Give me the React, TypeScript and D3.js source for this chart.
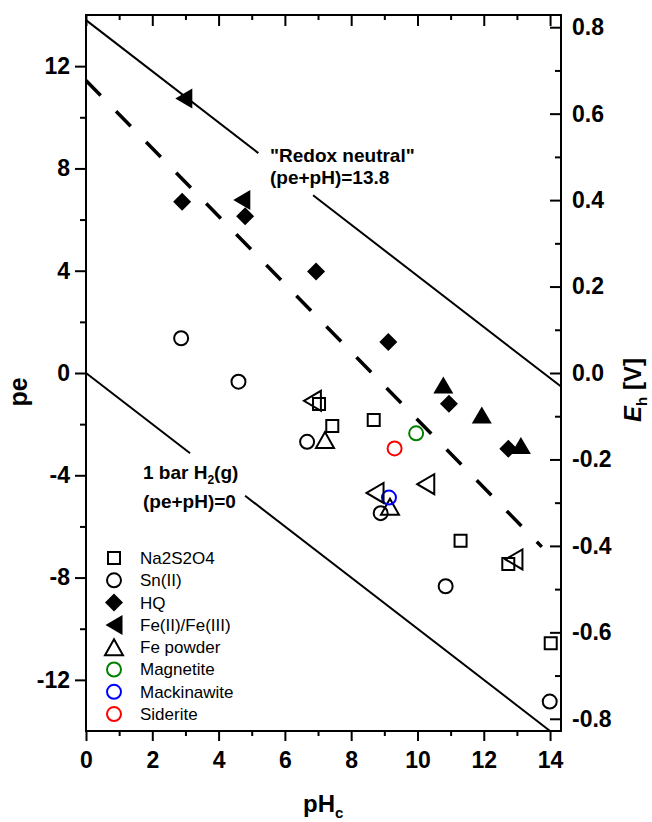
import React, { useEffect, useRef } from 'react';
import * as d3 from 'd3';

// data (pH, pe)
const na2s2o4 = [[7.03, -1.21], [7.43, -2.07], [8.68, -1.84], [11.3, -6.56], [12.74, -7.47], [14.02, -10.57]];
const snII = [[2.87, 1.36], [4.6, -0.34], [6.67, -2.69], [8.89, -5.48], [10.85, -8.34], [13.99, -12.85]];
const hq = [[2.9, 6.7], [4.8, 6.13], [6.94, 3.97], [9.12, 1.21], [10.95, -1.2], [12.74, -2.96]];
const feIIFeIII = [[2.95, 10.73], [4.7, 6.77]];
const fePowder = [[7.21, -2.62], [9.17, -5.23]];
const magnetite = [[9.96, -2.36]];
const mackinawite = [[9.14, -4.87]];
const siderite = [[9.31, -2.95]];
const filledUp = [[10.78, -0.47], [11.94, -1.64], [13.12, -2.84]];
const openLeft = [[6.83, -1.09], [8.72, -4.69], [10.25, -4.35], [12.91, -7.29]];

// reference lines
const redoxLineA = [[0, 13.8], [5.2, 8.6]];
const redoxLineB = [[6.85, 6.95], [14.33, -0.53]];
const h2LineA = [[0, 0], [3.14, -3.14]];
const h2LineB = [[4.8, -4.8], [14, -14]];
const fitLine = [[0, 11.44], [13.75, -6.8]];

// ticks
const xMajor = [0, 2, 4, 6, 8, 10, 12, 14];
const xMinor = [1, 3, 5, 7, 9, 11, 13];
const yMajor = [-12, -8, -4, 0, 4, 8, 12];
const yMinor = [-10, -6, -2, 2, 6, 10];
const ehMajor = [-0.8, -0.6, -0.4, -0.2, 0, 0.2, 0.4, 0.6, 0.8];
const ehMinor = [-0.7, -0.5, -0.3, -0.1, 0.1, 0.3, 0.5, 0.7];

const FONT = '"Liberation Sans", Arial, Helvetica, sans-serif';
const EH_PER_PE = 0.05916;

const shapePath = (kind: string) => {
  switch (kind) {
    case 'square':
      return 'M-6,-6h12v12h-12Z';
    case 'circle':
      return 'M7,0A7,7 0 1,1 -7,0A7,7 0 1,1 7,0Z';
    case 'diamond':
      return 'M0,-9L9,0L0,9L-9,0Z';
    case 'triUpFilled':
      return 'M0,-8.5L10,8.5L-10,8.5Z';
    case 'triUp':
      return 'M0,-8L9,8L-9,8Z';
    case 'triLeft':
      return 'M-8.5,0L8.5,-10L8.5,10Z';
    default:
      return '';
  }
};

const series = [
  { name: 'Na2S2O4', data: na2s2o4, shape: 'square', fill: 'none', stroke: '#000', legend: true },
  { name: 'Sn(II)', data: snII, shape: 'circle', fill: 'none', stroke: '#000', legend: true },
  { name: 'HQ', data: hq, shape: 'diamond', fill: '#000', stroke: 'none', legend: true },
  { name: 'Fe(II)/Fe(III)', data: feIIFeIII, shape: 'triLeft', fill: '#000', stroke: 'none', legend: true },
  { name: 'Fe powder', data: fePowder, shape: 'triUp', fill: 'none', stroke: '#000', legend: true },
  { name: 'Magnetite', data: magnetite, shape: 'circle', fill: 'none', stroke: '#008000', legend: true },
  { name: 'Mackinawite', data: mackinawite, shape: 'circle', fill: 'none', stroke: '#0000ff', legend: true },
  { name: 'Siderite', data: siderite, shape: 'circle', fill: 'none', stroke: '#ff0000', legend: true },
  { name: 'filled up', data: filledUp, shape: 'triUpFilled', fill: '#000', stroke: 'none', legend: false },
  { name: 'open left', data: openLeft, shape: 'triLeft', fill: 'none', stroke: '#000', legend: false },
];

const App = () => {
  const ref = useRef<SVGSVGElement>(null);

  useEffect(() => {
    const left = 86, right = 561, top = 15, bottom = 731;
    const svg = d3.select(ref.current);
    svg.selectAll('*').remove();

    const x = d3.scaleLinear().domain([0, 14.33]).range([left, right]);
    const y = d3.scaleLinear().domain([-14, 14]).range([bottom, top]);
    const y2 = d3.scaleLinear().domain([-14 * EH_PER_PE, 14 * EH_PER_PE]).range([bottom, top]);

    const styleAxis = (g: any) => {
      g.select('.domain').remove();
      g.selectAll('line').attr('stroke', '#000').attr('stroke-width', 2);
      g.selectAll('text')
        .attr('font-family', FONT)
        .attr('font-weight', 'bold')
        .attr('font-size', 23)
        .attr('fill', '#000');
    };

    // left axis
    svg.append('g').attr('transform', `translate(${left},0)`)
      .call(d3.axisLeft(y).tickValues(yMajor).tickSize(11).tickPadding(5).tickFormat((d: any) => String(d)))
      .call(styleAxis);
    svg.append('g').attr('transform', `translate(${left},0)`)
      .call(d3.axisLeft(y).tickValues(yMinor).tickSize(6).tickFormat(() => ''))
      .call(styleAxis);

    // bottom axis
    svg.append('g').attr('transform', `translate(0,${bottom})`)
      .call(d3.axisBottom(x).tickValues(xMajor).tickSize(10).tickPadding(11).tickFormat((d: any) => String(d)))
      .call(styleAxis);
    svg.append('g').attr('transform', `translate(0,${bottom})`)
      .call(d3.axisBottom(x).tickValues(xMinor).tickSize(5).tickFormat(() => ''))
      .call(styleAxis);

    // top axis (inward)
    svg.append('g').attr('transform', `translate(0,${top})`)
      .call(d3.axisBottom(x).tickValues(xMajor).tickSize(11).tickFormat(() => ''))
      .call(styleAxis);
    svg.append('g').attr('transform', `translate(0,${top})`)
      .call(d3.axisBottom(x).tickValues(xMinor).tickSize(5).tickFormat(() => ''))
      .call(styleAxis);

    // right axis, Eh (inward ticks)
    svg.append('g').attr('transform', `translate(${right},0)`)
      .call(d3.axisRight(y2).tickValues(ehMajor).tickSizeInner(-11).tickSizeOuter(0).tickPadding(11)
        .tickFormat((d: any) => d3.format('.1f')(d).replace('−', '-')))
      .call(styleAxis);
    svg.append('g').attr('transform', `translate(${right},0)`)
      .call(d3.axisRight(y2).tickValues(ehMinor).tickSizeInner(-6).tickSizeOuter(0).tickFormat(() => ''))
      .call(styleAxis);

    // frame
    svg.append('rect')
      .attr('x', left).attr('y', top)
      .attr('width', right - left).attr('height', bottom - top)
      .attr('fill', 'none').attr('stroke', '#000').attr('stroke-width', 2);

    // lines
    const line = d3.line<number[]>().x(d => x(d[0])).y(d => y(d[1]));
    [redoxLineA, redoxLineB, h2LineA, h2LineB].forEach(seg => {
      svg.append('path').datum(seg)
        .attr('fill', 'none').attr('stroke', '#000').attr('stroke-width', 2)
        .attr('d', line);
    });
    svg.append('path').datum(fitLine)
      .attr('fill', 'none').attr('stroke', '#000').attr('stroke-width', 3.5)
      .attr('stroke-dasharray', '21,22')
      .attr('d', line);

    // markers
    series.forEach(s => {
      svg.append('g').selectAll('path').data(s.data).join('path')
        .attr('transform', d => `translate(${x(d[0])},${y(d[1])})`)
        .attr('d', shapePath(s.shape))
        .attr('fill', s.fill)
        .attr('stroke', s.stroke)
        .attr('stroke-width', s.stroke === 'none' ? 0 : 2);
    });

    // annotations
    const ann = svg.append('g').attr('font-family', FONT).attr('font-weight', 'bold').attr('font-size', 19);
    ann.append('text').attr('x', 270).attr('y', 162).text('"Redox neutral"');
    ann.append('text').attr('x', 270).attr('y', 184).text('(pe+pH)=13.8');
    const h2 = ann.append('text').attr('x', 143).attr('y', 479);
    h2.append('tspan').text('1 bar H');
    h2.append('tspan').attr('font-size', 12).attr('dy', 5).text('2');
    h2.append('tspan').attr('dy', -5).text('(g)');
    ann.append('text').attr('x', 143).attr('y', 508).text('(pe+pH)=0');

    // legend
    const lg = svg.append('g');
    series.filter(s => s.legend).forEach((s, i) => {
      const cy = 558 + i * 22.3;
      lg.append('path')
        .attr('transform', `translate(114,${cy})`)
        .attr('d', shapePath(s.shape))
        .attr('fill', s.fill)
        .attr('stroke', s.stroke)
        .attr('stroke-width', s.stroke === 'none' ? 0 : 2);
      lg.append('text')
        .attr('x', 140).attr('y', cy).attr('dy', '0.35em')
        .attr('font-family', FONT).attr('font-size', 17)
        .text(s.name);
    });

    // axis titles
    svg.append('text')
      .attr('transform', 'translate(27,392) rotate(-90)')
      .attr('text-anchor', 'middle')
      .attr('font-family', FONT).attr('font-weight', 'bold').attr('font-size', 25)
      .text('pe');

    const xt = svg.append('text')
      .attr('x', 303).attr('y', 812)
      .attr('font-family', FONT).attr('font-weight', 'bold').attr('font-size', 24);
    xt.append('tspan').text('pH');
    xt.append('tspan').attr('font-size', 15).attr('dy', 6).text('c');

    const yt = svg.append('text')
      .attr('transform', 'translate(641,390) rotate(-90)')
      .attr('text-anchor', 'middle')
      .attr('font-family', FONT).attr('font-weight', 'bold').attr('font-size', 24);
    yt.append('tspan').attr('font-style', 'italic').text('E');
    yt.append('tspan').attr('font-size', 15).attr('dy', 6).text('h');
    yt.append('tspan').attr('dy', -6).text(' [V]');
  }, []);

  return (
    <svg
      ref={ref}
      width={652}
      height={822}
      style={{ position: 'absolute', left: 0, top: 0, background: '#fff' }}
    />
  );
};

export default App;
